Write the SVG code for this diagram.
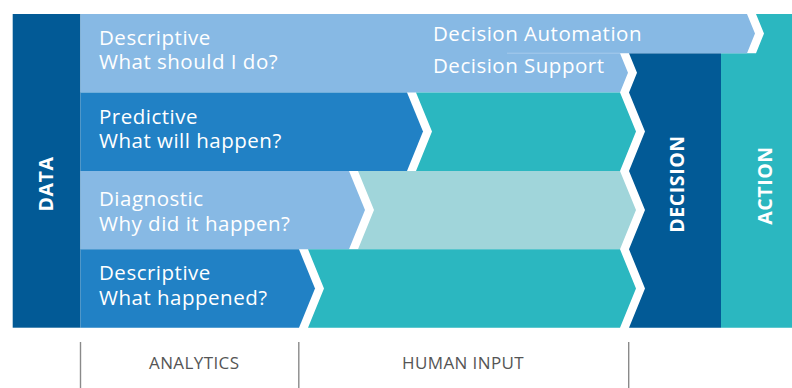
<svg xmlns="http://www.w3.org/2000/svg" width="792" height="388" viewBox="0 0 792 388">
<style>
.lb{fill:#87b9e4}.mb{fill:#2181c5}.tl{fill:#2bb7c0}.lt{fill:#a0d5da}.db{fill:#025a96}
.t{font-family:"Open Sans","Liberation Sans",sans-serif;font-size:20.5px;fill:#fff;letter-spacing:0.5px}
.v{font-family:"Open Sans","Liberation Sans",sans-serif;font-size:19.5px;font-weight:bold;fill:#fff;text-anchor:middle;letter-spacing:0.6px}
.b{font-family:"Open Sans","Liberation Sans",sans-serif;font-size:17px;fill:#555;letter-spacing:0.4px}
.sep{stroke:#8a8a8a;stroke-width:1.4}
</style>
<rect width="792" height="388" fill="#fff"/>
<g id="data">
<rect class="db" x="12.7" y="14" width="67.8" height="313.7"/>
<text class="v" transform="translate(52.5,184) rotate(-90)">DATA</text>
</g>
<g id="action">
<polygon class="tl" points="756,14 792,14 792,327.7 721,327.7 721,53.2 756,53.2 764,33.6"/>
<text class="v" transform="translate(772,185.5) rotate(-90)">ACTION</text>
</g>
<g id="decision">
<polygon class="db" points="629,53.2 721,53.2 721,327.7 629,327.7 645,288.5 629,249.3 645,210.1 629,170.9 645,131.6 629,92.4 637,72.8"/>
<text class="v" transform="translate(684,184) rotate(-90)">DECISION</text>
</g>
<g id="prescriptive">
<polygon class="lb" points="80.5,14 747,14 755,33.6 747,53.2 620,53.2 628,72.8 620,92.4 80.5,92.4"/>
<line x1="507" y1="53.2" x2="620" y2="53.2" stroke="#a5cbec" stroke-width="1"/>
<text class="t" x="99" y="45">Descriptive<tspan x="99" dy="24">What should I do?</tspan></text>
<text class="t" x="433" y="41">Decision Automation<tspan x="433" dy="31.7">Decision Support</tspan></text>
</g>
<g id="predictive">
<polygon class="mb" points="80.5,92.4 407,92.4 423,131.6 407,170.9 80.5,170.9"/>
<text class="t" x="99" y="124">Predictive<tspan x="99" dy="24">What will happen?</tspan></text>
</g>
<g id="predictive-human">
<polygon class="tl" points="416,92.4 620,92.4 636,131.6 620,170.9 416,170.9 432,131.6"/>
</g>
<g id="diagnostic">
<polygon class="lb" points="80.5,170.9 349,170.9 365,210.1 349,249.3 80.5,249.3"/>
<text class="t" x="99" y="206">Diagnostic<tspan x="99" dy="24.5">Why did it happen?</tspan></text>
</g>
<g id="diagnostic-human">
<polygon class="lt" points="358,170.9 620,170.9 636,210.1 620,249.3 358,249.3 374,210.1"/>
</g>
<g id="descriptive">
<polygon class="mb" points="80.5,249.3 299,249.3 315,288.5 299,327.7 80.5,327.7"/>
<text class="t" x="99" y="280">Descriptive<tspan x="99" dy="25">What happened?</tspan></text>
</g>
<g id="descriptive-human">
<polygon class="tl" points="308,249.3 620,249.3 636,288.5 620,327.7 308,327.7 324,288.5"/>
</g>
<g id="connectors">
<line class="sep" x1="80.5" y1="342" x2="80.5" y2="388"/>
<line class="sep" x1="298.8" y1="342" x2="298.8" y2="388"/>
<line class="sep" x1="628.7" y1="342" x2="628.7" y2="388"/>
</g>
<g id="labels">
<text class="b" x="149" y="369">ANALYTICS</text>
<text class="b" x="402" y="369">HUMAN INPUT</text>
</g>
</svg>
